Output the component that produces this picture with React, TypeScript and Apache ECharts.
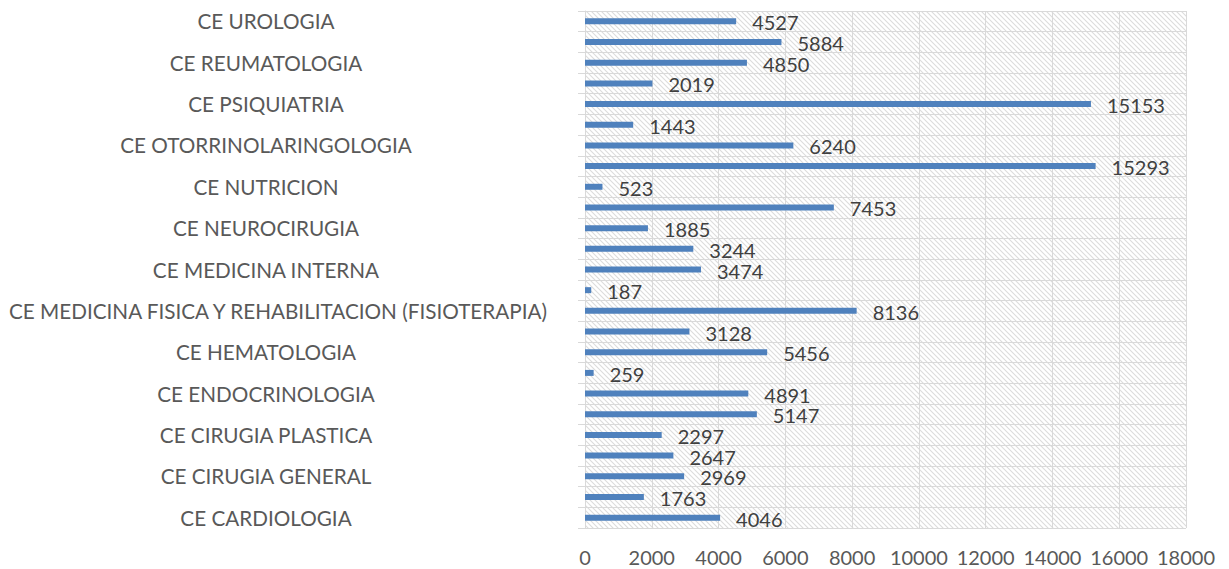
import React, { useEffect, useRef } from "react";
import * as echarts from "echarts";

// Categories, bottom to top (alphabetical). Only every other label is shown in the chart.
const categories = [
  "CE CARDIOLOGIA",
  "CE CIRUGIA CARDIOVASCULAR",
  "CE CIRUGIA GENERAL",
  "CE CIRUGIA MAXILOFACIAL",
  "CE CIRUGIA PLASTICA",
  "CE DERMATOLOGIA",
  "CE ENDOCRINOLOGIA",
  "CE GASTROENTEROLOGIA",
  "CE HEMATOLOGIA",
  "CE MEDICINA FAMILIAR",
  "CE MEDICINA FISICA Y REHABILITACION (FISIOTERAPIA)",
  "CE MEDICINA INTEGRATIVA",
  "CE MEDICINA INTERNA",
  "CE NEFROLOGIA",
  "CE NEUROCIRUGIA",
  "CE NEUROLOGIA",
  "CE NUTRICION",
  "CE OFTALMOLOGIA",
  "CE OTORRINOLARINGOLOGIA",
  "CE PEDIATRIA",
  "CE PSIQUIATRIA",
  "CE RADIOLOGIA",
  "CE REUMATOLOGIA",
  "CE TRAUMATOLOGIA",
  "CE UROLOGIA",
];

const values = [
  4046, 1763, 2969, 2647, 2297, 5147, 4891, 259, 5456, 3128, 8136, 187, 3474,
  3244, 1885, 7453, 523, 15293, 6240, 1443, 15153, 2019, 4850, 5884, 4527,
];

const xMin = 0;
const xMax = 18000;
const xStep = 2000;

function makeHatch(): HTMLCanvasElement {
  const c = document.createElement("canvas");
  const s = 5;
  c.width = s;
  c.height = s;
  const ctx = c.getContext("2d")!;
  ctx.fillStyle = "#ffffff";
  ctx.fillRect(0, 0, s, s);
  ctx.strokeStyle = "#dcdcdc";
  ctx.lineWidth = 1.1;
  ctx.beginPath();
  ctx.moveTo(-1, -1);
  ctx.lineTo(s + 1, s + 1);
  ctx.moveTo(-1, s - 1);
  ctx.lineTo(1, s + 1);
  ctx.moveTo(s - 1, -1);
  ctx.lineTo(s + 1, 1);
  ctx.stroke();
  return c;
}

export default function App() {
  const ref = useRef<HTMLDivElement>(null);

  useEffect(() => {
    document.body.style.margin = "0";
    const chart = echarts.init(ref.current!, undefined, { renderer: "svg" });
    const font = "Lato, 'Open Sans', sans-serif";
    const grid = "#d9d9d9";
    const catFont = 20.7;
    chart.setOption({
      animation: false,
      backgroundColor: "#ffffff",
      grid: {
        left: 585,
        right: 43,
        top: 11,
        bottom: 41,
        show: true,
        borderWidth: 0,
        outerBoundsMode: "none",
        containLabel: false,
        backgroundColor: {
          image: makeHatch(),
          repeat: "repeat",
          imageWidth: 5,
          imageHeight: 5,
        },
      },
      xAxis: {
        type: "value",
        min: xMin,
        max: xMax,
        interval: xStep,
        axisLine: { show: false },
        axisTick: { show: false },
        splitLine: { show: true, lineStyle: { color: grid, width: 1 } },
        axisLabel: {
          color: "#595959",
          fontSize: 20,
          lineHeight: 18,
          fontFamily: font,
          margin: 20,
          formatter: (v: number) => String(v),
        },
      },
      yAxis: {
        type: "category",
        data: categories,
        boundaryGap: true,
        axisLine: { show: true, lineStyle: { color: grid, width: 1 } },
        axisTick: {
          show: true,
          interval: 0,
          length: 7,
          lineStyle: { color: grid, width: 1 },
        },
        splitLine: {
          show: true,
          interval: 0,
          lineStyle: { color: grid, width: 1 },
        },
        axisLabel: {
          interval: 1,
          color: "#595959",
          fontSize: catFont,
          fontFamily: font,
          align: "center",
          margin: 319,
          formatter: (v: string) => (v.length > 40 ? `{wide|${v}}` : v),
          rich: {
            wide: {
              color: "#595959",
              fontSize: catFont,
              fontFamily: font,
              padding: [0, 0, 0, 24],
            },
          },
        },
      },
      series: [
        {
          type: "bar",
          data: values,
          barWidth: 6,
          itemStyle: { color: "#4F81BD" },
          label: {
            show: true,
            position: "right",
            distance: 16,
            color: "#404040",
            fontSize: 20,
            fontFamily: font,
            offset: [0, 1],
          },
        },
      ],
    });
    return () => chart.dispose();
  }, []);

  return <div ref={ref} style={{ width: 1229, height: 569 }} />;
}
